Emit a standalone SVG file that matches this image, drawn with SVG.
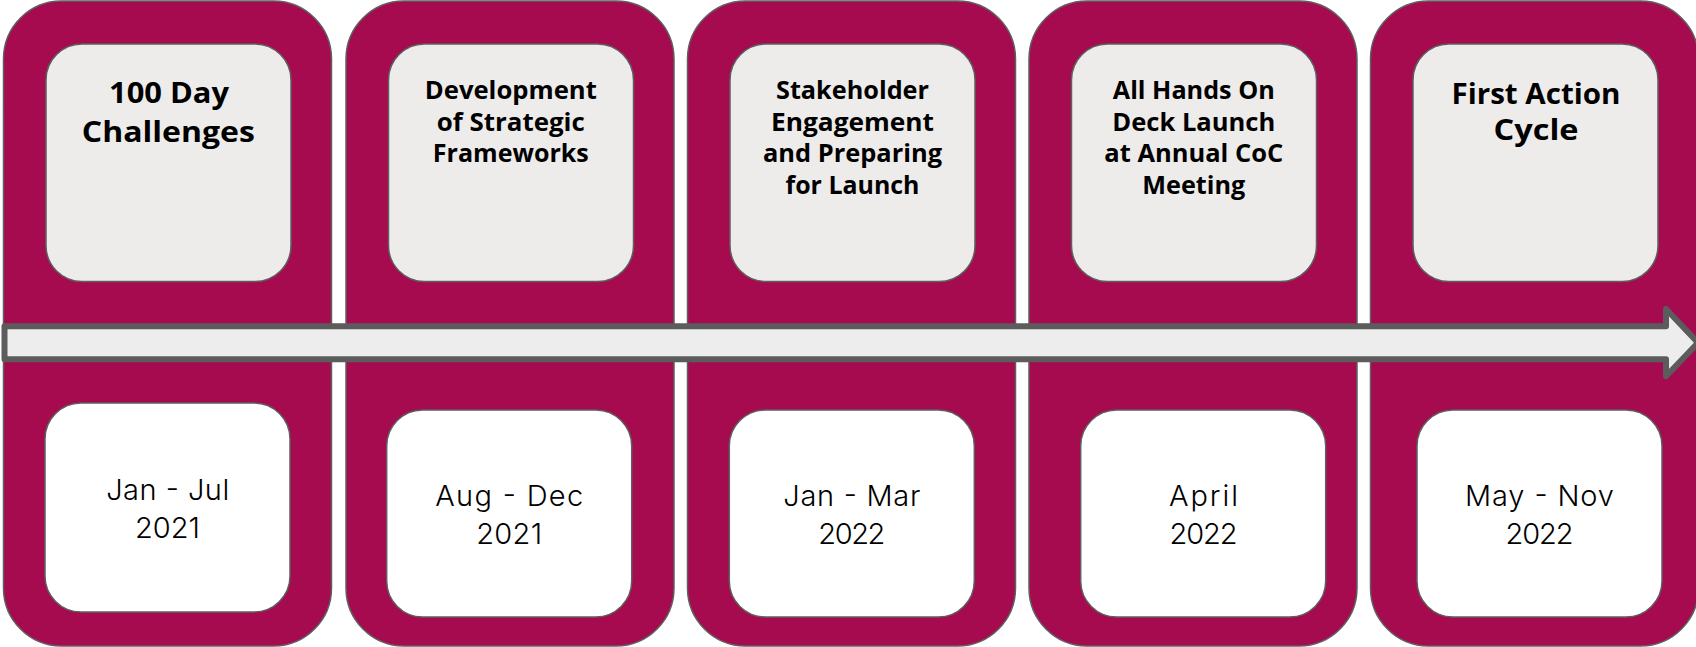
<svg xmlns="http://www.w3.org/2000/svg" width="1696" height="647" viewBox="0 0 1696 647">
<style>
.panel{fill:#A50B4E;stroke:#5f5f5f;stroke-width:1.5}
.top{fill:#EDECEA;stroke:#5f5f5f;stroke-width:1.5}
.bot{fill:#FFFFFF;stroke:#5f5f5f;stroke-width:1.5}
.t{font-family:"Open Sans","Liberation Sans",sans-serif;font-weight:700;fill:#000;text-anchor:middle}
.t28{font-size:28px}
.t25{font-size:25px}
.d{font-family:Inter,"Open Sans","Liberation Sans",sans-serif;font-weight:300;font-size:29px;fill:#000;text-anchor:middle}
.arrow{fill:#EDEDED;stroke:#5c5c5c;stroke-width:6;stroke-linejoin:round}
</style>
<rect width="1696" height="647" fill="#FFFFFF"/>
<g id="phase1">
<rect class="panel" x="3.5" y="1" width="328" height="645" rx="58"/>
<rect class="top" x="46" y="44" width="245" height="237.5" rx="36"/>
<rect class="bot" x="45" y="403" width="245" height="209" rx="36"/>
<text class="t t28" x="169" y="103" textLength="120" lengthAdjust="spacingAndGlyphs">100 Day</text>
<text class="t t28" x="168.3" y="142" textLength="173" lengthAdjust="spacingAndGlyphs">Challenges</text>
<text class="d" x="167.7" y="500" textLength="123" lengthAdjust="spacing">Jan - Jul</text>
<text class="d" x="167.5" y="538" textLength="65" lengthAdjust="spacing">2021</text>
</g>
<g id="phase2">
<rect class="panel" x="346" y="1" width="328" height="645" rx="58"/>
<rect class="top" x="388.5" y="44" width="245" height="237.5" rx="36"/>
<rect class="bot" x="386.7" y="410" width="245" height="207" rx="36"/>
<text class="t t25" x="510.8" y="99.3" textLength="172" lengthAdjust="spacingAndGlyphs">Development</text>
<text class="t t25" x="510.8" y="130.5" textLength="148" lengthAdjust="spacingAndGlyphs">of Strategic</text>
<text class="t t25" x="510.8" y="162" textLength="156" lengthAdjust="spacingAndGlyphs">Frameworks</text>
<text class="d" x="509.2" y="506" textLength="148" lengthAdjust="spacing">Aug - Dec</text>
<text class="d" x="509.2" y="544" textLength="66" lengthAdjust="spacing">2021</text>
</g>
<g id="phase3">
<rect class="panel" x="687.5" y="1" width="328" height="645" rx="58"/>
<rect class="top" x="730" y="44" width="245" height="237.5" rx="36"/>
<rect class="bot" x="729.3" y="410" width="245" height="207" rx="36"/>
<text class="t t25" x="852.5" y="99.3" textLength="153" lengthAdjust="spacingAndGlyphs">Stakeholder</text>
<text class="t t25" x="852.5" y="130.5" textLength="163" lengthAdjust="spacingAndGlyphs">Engagement</text>
<text class="t t25" x="852.5" y="162" textLength="179" lengthAdjust="spacingAndGlyphs">and Preparing</text>
<text class="t t25" x="852.5" y="194" textLength="134" lengthAdjust="spacingAndGlyphs">for Launch</text>
<text class="d" x="851.8" y="506" textLength="137" lengthAdjust="spacing">Jan - Mar</text>
<text class="d" x="851.8" y="544" textLength="67" lengthAdjust="spacing">2022</text>
</g>
<g id="phase4">
<rect class="panel" x="1029" y="1" width="328" height="645" rx="58"/>
<rect class="top" x="1071.5" y="44" width="245" height="237.5" rx="36"/>
<rect class="bot" x="1080.7" y="410" width="245" height="207" rx="36"/>
<text class="t t25" x="1193.8" y="99.3" textLength="162" lengthAdjust="spacingAndGlyphs">All Hands On</text>
<text class="t t25" x="1193.8" y="130.5" textLength="163" lengthAdjust="spacingAndGlyphs">Deck Launch</text>
<text class="t t25" x="1193.8" y="162" textLength="179" lengthAdjust="spacingAndGlyphs">at Annual CoC</text>
<text class="t t25" x="1193.8" y="194" textLength="103" lengthAdjust="spacingAndGlyphs">Meeting</text>
<text class="d" x="1203.5" y="506" textLength="69" lengthAdjust="spacing">April</text>
<text class="d" x="1203.5" y="544" textLength="68" lengthAdjust="spacing">2022</text>
</g>
<g id="phase5">
<rect class="panel" x="1370.5" y="1" width="328" height="645" rx="58"/>
<rect class="top" x="1413" y="44" width="245" height="237.5" rx="36"/>
<rect class="bot" x="1417" y="410" width="245" height="207" rx="36"/>
<text class="t t28" x="1536" y="104" textLength="169" lengthAdjust="spacingAndGlyphs">First Action</text>
<text class="t t28" x="1536" y="140" textLength="85" lengthAdjust="spacingAndGlyphs">Cycle</text>
<text class="d" x="1539.5" y="506" textLength="149" lengthAdjust="spacing">May - Nov</text>
<text class="d" x="1539.5" y="544" textLength="68" lengthAdjust="spacing">2022</text>
</g>
<g id="connectors">
<path class="arrow" d="M4.5,326.3 H1666 V309 L1698,342.7 L1666,376.3 V359.2 H4.5 Z"/>
</g>
</svg>
